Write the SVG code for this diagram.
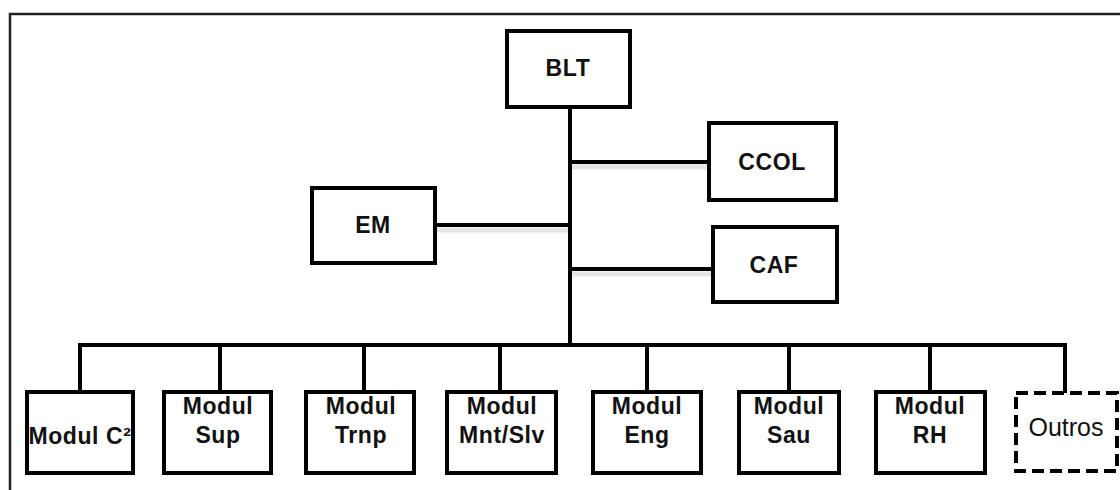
<svg xmlns="http://www.w3.org/2000/svg" width="1120" height="490" viewBox="0 0 1120 490">
<style>
.box{fill:#fff;stroke:#000;stroke-width:4}
.dash{fill:#fff;stroke:#000;stroke-width:4;stroke-dasharray:12 6}
.t{font-family:"Liberation Sans",Arial,sans-serif;font-weight:bold;font-size:23px;letter-spacing:0.6px;fill:#111;text-anchor:middle}
.to{font-family:"Liberation Sans",Arial,sans-serif;font-weight:normal;font-size:25px;fill:#111;text-anchor:middle}
.ln{stroke:#000;stroke-width:4;fill:none}
.sh{stroke:#000;stroke-opacity:0.1;stroke-width:5;fill:none}
</style>
<rect x="0" y="0" width="1120" height="490" fill="#fff"/>
<path d="M10,495 V14 H1125" fill="none" stroke="#222" stroke-width="2.5"/>
<g id="connectors">
<path class="sh" d="M572,167 H709 M436,230 H570 M572,274 H711"/>
<path class="ln" d="M570,107 V345"/>
<path class="ln" d="M570,162 H709"/>
<path class="ln" d="M436,225 H570"/>
<path class="ln" d="M570,269 H711"/>
<path class="ln" d="M80,345 H1065"/>
<path class="ln" d="M80,343 V392 M220,345 V392 M364,345 V392 M500,345 V392 M647,345 V392 M789,345 V392 M930,345 V392 M1065,343 V393"/>
</g>
<g id="n-blt"><rect class="box" x="507" y="31" width="123" height="76"/><text class="t" x="568" y="76">BLT</text></g>
<g id="n-ccol"><rect class="box" x="709" y="123" width="127" height="77"/><text class="t" x="772" y="170">CCOL</text></g>
<g id="n-em"><rect class="box" x="312" y="188" width="123" height="75"/><text class="t" x="373" y="233">EM</text></g>
<g id="n-caf"><rect class="box" x="713" y="227" width="124" height="75"/><text class="t" x="774" y="273">CAF</text></g>
<g id="n-c2"><rect class="box" x="27" y="392" width="106" height="81"/><text class="t" x="80" y="444">Modul C²</text></g>
<g id="n-sup"><rect class="box" x="164" y="392" width="107" height="81"/><text class="t" x="218" y="414">Modul</text><text class="t" x="218" y="443">Sup</text></g>
<g id="n-trnp"><rect class="box" x="306" y="392" width="108" height="81"/><text class="t" x="361" y="414">Modul</text><text class="t" x="361" y="443">Trnp</text></g>
<g id="n-mnt"><rect class="box" x="447" y="392" width="109" height="81"/><text class="t" x="502" y="414">Modul</text><text class="t" x="502" y="443">Mnt/Slv</text></g>
<g id="n-eng"><rect class="box" x="593" y="392" width="108" height="81"/><text class="t" x="647" y="414">Modul</text><text class="t" x="647" y="443">Eng</text></g>
<g id="n-sau"><rect class="box" x="739" y="392" width="100" height="81"/><text class="t" x="789" y="414">Modul</text><text class="t" x="789" y="443">Sau</text></g>
<g id="n-rh"><rect class="box" x="876" y="392" width="109" height="81"/><text class="t" x="930" y="414">Modul</text><text class="t" x="930" y="443">RH</text></g>
<g id="n-outros"><rect class="dash" x="1016" y="393" width="101" height="78"/><text class="to" x="1066" y="436">Outros</text></g>
</svg>
